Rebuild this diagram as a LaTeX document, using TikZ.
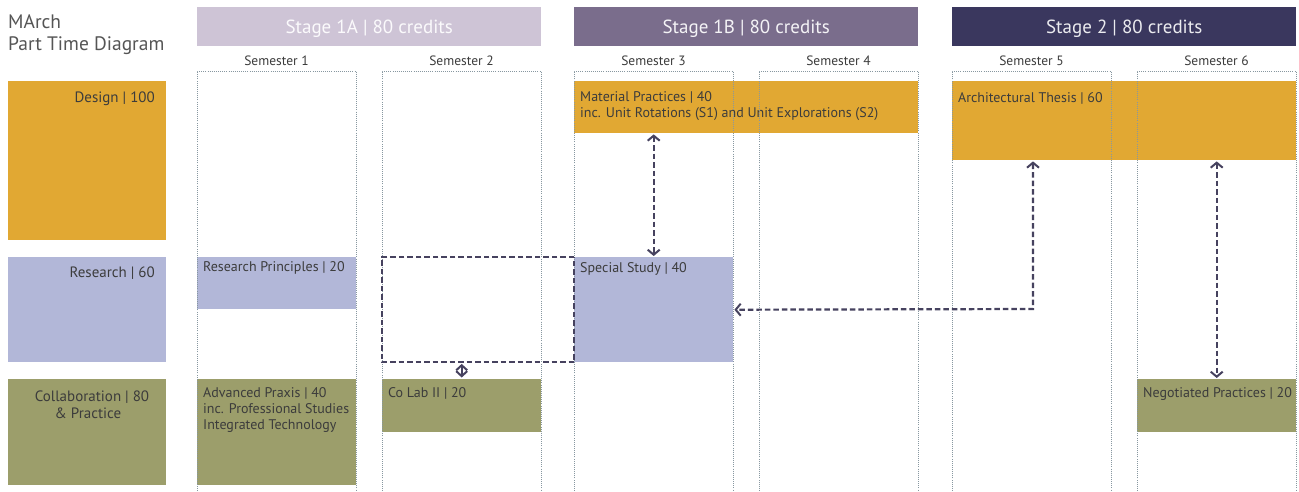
\documentclass[tikz,border=0pt]{standalone}
\usepackage{fontspec}
\setmainfont{PT Sans}
\usetikzlibrary{arrows.meta,calc}
\definecolor{designC}{HTML}{E1A833}
\definecolor{researchC}{HTML}{B2B7D8}
\definecolor{collabC}{HTML}{9C9E6B}
\definecolor{stageA}{HTML}{CEC4D6}
\definecolor{stageB}{HTML}{7A6D8C}
\definecolor{stageC}{HTML}{3A375E}
\definecolor{txtC}{HTML}{3C3C3C}
\definecolor{titleC}{HTML}{555555}
\definecolor{dotC}{HTML}{8797A0}
\definecolor{arrC}{HTML}{46425F}
\tikzset{
  blk/.style={draw=none, inner sep=0pt, anchor=north west},
  modtext/.style={inner sep=0pt, anchor=base west, text=txtC, font=\fontsize{14}{16}\selectfont, align=left},
  cattext/.style={inner sep=0pt, text=txtC, font=\fontsize{15}{17}\selectfont},
  stagetext/.style={text=white, font=\fontsize{19}{22}\selectfont, anchor=base},
  semtext/.style={text=txtC, font=\fontsize{13.5}{16}\selectfont, anchor=base},
  coldot/.style={draw=dotC, line width=1pt, dash pattern=on 1pt off 1.1pt},
  link/.style={draw=arrC, line width=2.2pt, dash pattern=on 5.5pt off 3pt,
    {Straight Barb[length=5pt,width=12pt,line width=2pt]}-{Straight Barb[length=5pt,width=12pt,line width=2pt]}},
  boxdash/.style={draw=arrC, line width=2pt, dash pattern=on 5.5pt off 3pt}
}
\begin{document}
\begin{tikzpicture}[x=1pt,y=-1pt]
\useasboundingbox[fill=white] (0,0) rectangle (1299,491);
% title (base anchor = baseline of last line)
\node[anchor=base west, inner sep=0pt, text=titleC, align=left, font=\fontsize{19.5}{22}\selectfont] (title) at (8,50) {MArch\\Part Time Diagram};
% category boxes
\node[blk, fill=designC, minimum width=158pt, minimum height=159pt] (design) at (8,81) {};
\node[cattext, anchor=base east] at (155,102) {Design | 100};
\node[blk, fill=researchC, minimum width=158pt, minimum height=105pt] (research) at (8,257) {};
\node[cattext, anchor=base east] at (155,277) {Research | 60};
\node[blk, fill=collabC, minimum width=158pt, minimum height=106pt] (collab) at (8,379) {};
\node[cattext, anchor=base, align=center] at (92,418) {Collaboration | 80\\\hspace*{-8pt}\& Practice};
% stage headers
\node[blk, fill=stageA, minimum width=344pt, minimum height=39pt] (s1a) at (197,7) {};
\node[stagetext, text=white!92!stageA] at ([yshift=-7pt]s1a.center) {Stage 1A | 80 credits};
\node[blk, fill=stageB, minimum width=344pt, minimum height=39pt] (s1b) at (574,7) {};
\node[stagetext, text=white!92!stageB] at ([yshift=-7pt]s1b.center) {Stage 1B | 80 credits};
\node[blk, fill=stageC, minimum width=344pt, minimum height=39pt] (s2) at (952,7) {};
\node[stagetext, text=white!90!stageC] at ([yshift=-7pt]s2.center) {Stage 2 | 80 credits};
% semester labels
\foreach \x/\n in {276.5/1, 461.5/2, 653.5/3, 838.5/4, 1031.5/5, 1216.5/6}
  \node[semtext] (sem\n) at (\x,65.5) {Semester \n};
% modules
\node[blk, fill=designC, minimum width=344pt, minimum height=52pt] (mp) at (574,81) {};
\node[modtext] at ([xshift=6pt,yshift=-36pt]mp.north west) {Material Practices | 40\\inc. Unit Rotations (S1) and Unit Explorations (S2)};
\node[blk, fill=designC, minimum width=344pt, minimum height=79pt] (at) at (952,81) {};
\node[modtext] at ([xshift=6pt,yshift=-21pt]at.north west) {Architectural Thesis | 60};
\node[blk, fill=researchC, minimum width=159pt, minimum height=52pt] (rp) at (197,257) {};
\node[modtext] at ([xshift=6pt,yshift=-14pt]rp.north west) {Research Principles | 20};
\node[blk, fill=researchC, minimum width=159pt, minimum height=105pt] (ss) at (574,257) {};
\node[modtext] at ([xshift=6pt,yshift=-15pt]ss.north west) {Special Study | 40};
\node[blk, fill=collabC, minimum width=159pt, minimum height=106pt] (ap) at (197,379) {};
\node[modtext] at ([xshift=6pt,yshift=-50pt]ap.north west) {Advanced Praxis | 40\\inc. Professional Studies\\Integrated Technology};
\node[blk, fill=collabC, minimum width=159pt, minimum height=53pt] (cl) at (382,379) {};
\node[modtext] at ([xshift=6pt,yshift=-18pt]cl.north west) {Co Lab II | 20};
\node[blk, fill=collabC, minimum width=159pt, minimum height=53pt] (np) at (1137,379) {};
\node[modtext] at ([xshift=6pt,yshift=-18pt]np.north west) {Negotiated Practices | 20};
% semester columns (dotted, open at bottom)
\foreach \l/\r in {197/356, 382/541, 574/733, 759/918, 952/1111, 1137/1296}
  \draw[coldot] (\l,491) -- (\l,71) -- (\r,71) -- (\r,491);
% dashed box
\node[blk, minimum width=192pt, minimum height=105pt] (db) at (382,257) {};
\draw[boxdash] (db.north east) -- (db.north west) -- (db.south west) -- (db.south east) -- (db.north east);
% connectors
\draw[link] ([yshift=-1pt]mp.south -| ss.north) -- ([yshift=1pt]ss.north);
\coordinate (turn) at (1033,309);
\draw[link] ([yshift=-1pt]at.south -| turn) -- (turn) -- ([xshift=1pt]ss.east);
\draw[link] ([yshift=-1pt]at.south -| np.north) -- ([yshift=1pt]np.north);
\draw[draw=arrC, line width=2pt, {Straight Barb[length=5pt,width=11pt,line width=2pt]}-{Straight Barb[length=5pt,width=11pt,line width=2pt]}] ([yshift=-1.5pt]db.south -| cl.north) -- ([yshift=1.5pt]cl.north);
\end{tikzpicture}
\end{document}
